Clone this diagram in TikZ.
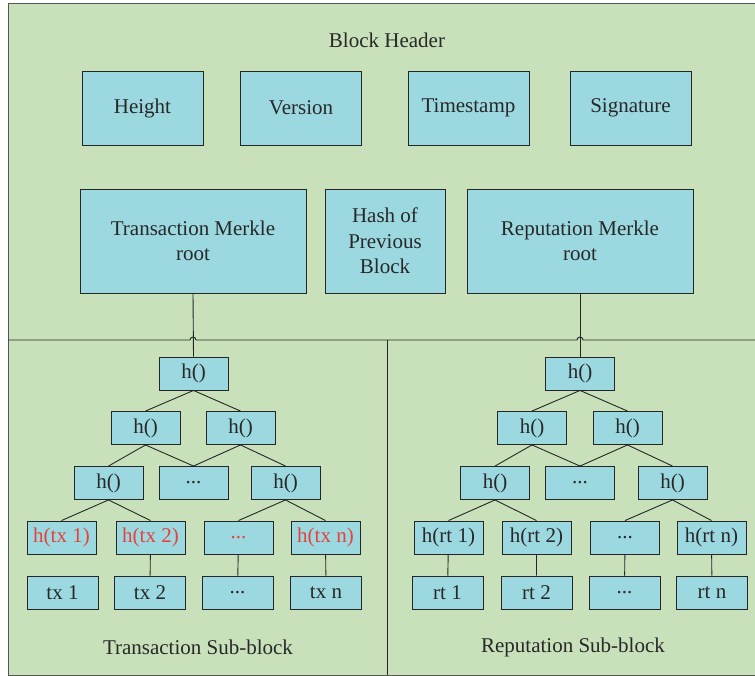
\documentclass[tikz,border=0pt]{standalone}
\usepackage{fontspec}
\setmainfont{Liberation Serif}
\usepackage{tikz}
\usetikzlibrary{positioning}

\definecolor{BlockGreen}{RGB}{200,225,186}
\definecolor{FieldBlue}{RGB}{155,216,224}
\definecolor{HashRed}{RGB}{229,66,60}
\definecolor{TextGray}{RGB}{40,40,40}
\definecolor{FrameGray}{RGB}{85,85,85}

\tikzset{
  field/.style={draw=black!85, fill=FieldBlue, line width=0.9pt, text=TextGray,
    minimum width=121pt, minimum height=74pt, font=\fontsize{21}{25.5}\selectfont, align=center, inner sep=0pt},
  rootfield/.style={field, minimum width=226pt, minimum height=104pt},
  hashbox/.style={field, minimum width=69pt, minimum height=33pt},
  leafbox/.style={hashbox, minimum width=71pt},
  link/.style={draw=black!85, line width=0.9pt},
  caption/.style={text=TextGray, font=\fontsize{21}{25.5}\selectfont}
}

\begin{document}
\begin{tikzpicture}[x=1pt, y=-1pt]
  \clip (0,0) rectangle (755,676);
  \useasboundingbox (0,0) rectangle (755,676);
  % block frame and sub-block dividers (the line hops over the root links)
  \fill[BlockGreen] (8,4) rectangle (760,675);
  \draw[FrameGray, line width=1pt] (760,4) -- (8,4) -- (8,675) -- (760,675);
  \draw[black!85, line width=0.9pt] (8,340) -- (190,340) arc[start angle=180, end angle=0, radius=3pt]
    -- (577,340) arc[start angle=180, end angle=0, radius=3pt] -- (760,340);
  \draw[black!85, line width=0.9pt] (387,340) -- (387,675);

  % header fields
  \node[caption] (header) at (387,40) {Block Header};
  \node[field] (height) at (142.5,108) {Height};
  \node[field] (version) at (301,108) {Version};
  \node[field] (timestamp) at (468.5,108) {Timestamp};
  \node[field] (signature) at (630.5,108) {Signature};
  \node[rootfield] (txroot) at (193,241) {Transaction Merkle\\root};
  \node[field, minimum width=120pt, minimum height=104pt] (prevhash) at (385,241) {Hash of\\Previous\\Block};
  \node[rootfield] (rtroot) at (580,241) {Reputation Merkle\\root};

  % transaction tree
  \node[hashbox] (t0) at (193.5,373.5) {h()};
  \node[hashbox] (t1) at (145.5,428) {h()};
  \node[hashbox] (t2) at (240.5,428) {h()};
  \node[hashbox] (t11) at (108.5,483) {h()};
  \node[hashbox] (t12) at (193.5,483) {...};
  \node[hashbox] (t22) at (285.5,483) {h()};
  \node[hashbox, text=HashRed] (th1) at (61.5,537.5) {h(tx 1)};
  \node[hashbox, text=HashRed] (th2) at (150.5,537.5) {h(tx 2)};
  \node[hashbox, text=HashRed] (th3) at (238.5,537.5) {...};
  \node[hashbox, text=HashRed] (thn) at (325.5,537.5) {h(tx n)};
  \node[leafbox] (tx1) at (62.5,592.5) {tx 1};
  \node[leafbox] (tx2) at (150,592.5) {tx 2};
  \node[leafbox] (tx3) at (237.5,592.5) {...};
  \node[leafbox] (txn) at (326,592.5) {tx n};
  \node[caption] (txlabel) at (198,647) {Transaction Sub-block};

  \draw[link] (txroot.south) -- (t0.north);
  \draw[link] (t0.south) -- (t1.north) (t0.south) -- (t2.north);
  \draw[link] (t1.south) -- (t11.north) (t1.south) -- (t12.north);
  \draw[link] (t2.south) -- (t12.north) (t2.south) -- (t22.north);
  \draw[link] (t11.south) -- (th1.north) (t11.south) -- (th2.north);
  \draw[link] (t22.south) -- (th3.north) (t22.south) -- (thn.north);
  \draw[link] (th2) -- (tx2) (th3) -- (tx3) (thn) -- (txn);

  % reputation tree
  \node[hashbox] (r0) at (580,373.5) {h()};
  \node[hashbox] (r1) at (532,428) {h()};
  \node[hashbox] (r2) at (627.5,428) {h()};
  \node[hashbox] (r11) at (495,483) {h()};
  \node[hashbox] (r12) at (580,483) {...};
  \node[hashbox] (r22) at (672.5,483) {h()};
  \node[hashbox] (rh1) at (448.5,537.5) {h(rt 1)};
  \node[hashbox] (rh2) at (536.5,537.5) {h(rt 2)};
  \node[hashbox] (rh3) at (625,537.5) {...};
  \node[hashbox] (rhn) at (711.5,537.5) {h(rt n)};
  \node[leafbox] (rt1) at (447.5,592.5) {rt 1};
  \node[leafbox] (rt2) at (536.5,592.5) {rt 2};
  \node[leafbox] (rt3) at (624.5,592.5) {...};
  \node[leafbox] (rtn) at (712,592.5) {rt n};
  \node[caption] (rtlabel) at (573,647) {Reputation Sub-block};

  \draw[link] (rtroot.south) -- (r0.north);
  \draw[link] (r0.south) -- (r1.north) (r0.south) -- (r2.north);
  \draw[link] (r1.south) -- (r11.north) (r1.south) -- (r12.north);
  \draw[link] (r2.south) -- (r12.north) (r2.south) -- (r22.north);
  \draw[link] (r11.south) -- (rh1.north) (r11.south) -- (rh2.north);
  \draw[link] (r22.south) -- (rh3.north) (r22.south) -- (rhn.north);
  \draw[link] (rh1) -- (rt1) (rh2) -- (rt2) (rh3) -- (rt3) (rhn) -- (rtn);
\end{tikzpicture}
\end{document}
